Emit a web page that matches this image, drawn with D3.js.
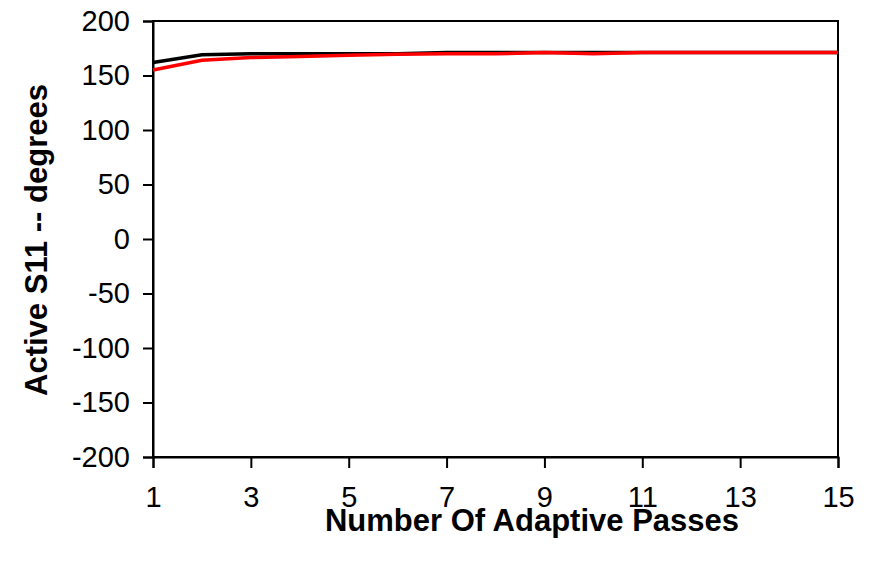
<!DOCTYPE html>
<html><head><meta charset="utf-8">
<script src="https://cdn.jsdelivr.net/npm/d3@7"></script>
<style>body{margin:0;background:#fff;} svg{display:block;}</style>
</head><body>
<svg id="c" width="871" height="561"></svg>
<script>
const passes = [1,2,3,4,5,6,7,8,9,10,11,12,13,14,15];
const blackSeries = [162,169,170,170,170,170,171,171,171,171,171,171,171,171,171];
const redSeries = [155,164,166.5,167.5,168.5,169.5,170,170,171,170,171,171,171,171,171];
const xTicks = [1,3,5,7,9,11,13,15];
const yTicks = [-200,-150,-100,-50,0,50,100,150,200];

const svg = d3.select("#c");
const L=153, R=838, T=21, B=457;
const x = d3.scaleLinear().domain([1,15]).range([L,R]);
const y = d3.scaleLinear().domain([-200,200]).range([B,T]);
const font = "'Liberation Sans', Arial, sans-serif";

svg.append("rect").attr("x",L).attr("y",T).attr("width",R-L).attr("height",B-T)
  .attr("fill","none").attr("stroke","#000").attr("stroke-width",2);

const xa = svg.append("g").attr("transform",`translate(0,${B})`)
  .call(d3.axisBottom(x).tickValues(xTicks).tickSize(11).tickPadding(18).tickFormat(d=>String(d)));
const ya = svg.append("g").attr("transform",`translate(${L},0)`)
  .call(d3.axisLeft(y).tickValues(yTicks).tickSize(10).tickPadding(13).tickFormat(d=>String(d)));
[xa,ya].forEach(a=>{
  a.attr("font-size",null).attr("font-family",null);
  a.select(".domain").attr("stroke","#000").attr("stroke-width",2);
  a.selectAll(".tick line").attr("stroke","#000").attr("stroke-width",2);
  a.selectAll(".tick text").attr("font-family",font).attr("font-size",29).attr("fill","#000");
});

const line = d3.line().x((d,i)=>x(passes[i])).y(d=>y(d));
svg.append("path").datum(blackSeries).attr("d",line).attr("fill","none").attr("stroke","#000").attr("stroke-width",3.5);
svg.append("path").datum(redSeries).attr("d",line).attr("fill","none").attr("stroke","#ff0000").attr("stroke-width",3.5);

svg.append("text").attr("x",532).attr("y",531).attr("text-anchor","middle")
  .attr("font-family",font).attr("font-weight","bold").attr("font-size",31).text("Number Of Adaptive Passes");
svg.append("text").attr("transform",`translate(47,240) rotate(-90)`).attr("text-anchor","middle")
  .attr("font-family",font).attr("font-weight","bold").attr("font-size",31).text("Active S11 -- degrees");
</script>
</body></html>
